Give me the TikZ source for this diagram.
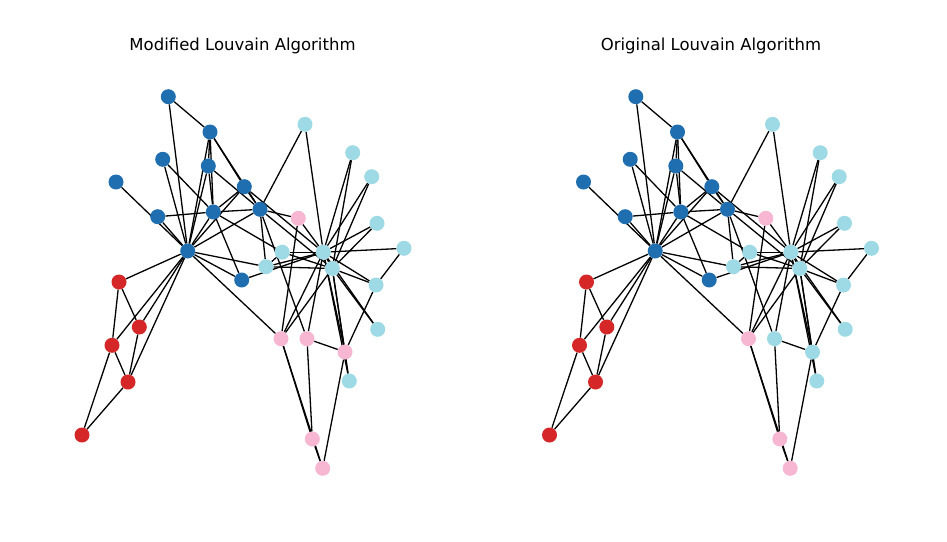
\documentclass[tikz,border=0pt]{standalone}
\usepackage{fontspec}
\setmainfont{DejaVu Sans}
\usetikzlibrary{backgrounds}
\definecolor{kcBlue}{HTML}{1F6EB0}
\definecolor{kcRed}{HTML}{D62728}
\definecolor{kcPink}{HTML}{F7B6D2}
\definecolor{kcCyan}{HTML}{9EDAE5}
\tikzset{
  member/.style={circle, inner sep=0pt, minimum size=15pt},
  tie/.style={line width=1.3pt, black},
  paneltitle/.style={font=\fontsize{16.5}{20}\selectfont, anchor=base}
}
\begin{document}
\begin{tikzpicture}[x=1pt, y=-1pt]
  \useasboundingbox (0,0) rectangle (947,541);
  \foreach \p/\dx/\cm in {L/0/kcPink, R/467.5/kcCyan} {
    \foreach \i/\x/\y/\c in {0/187.7/251/kcBlue, 1/213.3/212/kcBlue, 2/260/209.3/kcBlue,
        3/210/132/kcBlue, 4/119/282/kcRed, 5/128/382/kcRed, 6/112/345.3/kcRed,
        7/208.3/166/kcBlue, 8/266/266.7/kcCyan, 9/305/124.3/kcCyan, 10/139.3/327/kcRed,
        11/116/182/kcBlue, 12/168.3/96.7/kcBlue, 13/244.3/186.7/kcBlue,
        14/352.7/152.7/kcCyan, 15/371.7/176.7/kcCyan, 16/82/435/kcRed,
        17/157.7/216.7/kcBlue, 18/377/223.3/kcCyan, 19/241.7/280/kcBlue,
        20/377.7/329.3/kcCyan, 21/162.7/159.3/kcBlue, 22/349.3/381/kcCyan,
        23/345/352/\cm, 24/312.3/439/kcPink, 25/322.7/468.3/kcPink,
        26/404/248.3/kcCyan, 27/307/338.7/\cm, 28/298.3/218.3/kcPink,
        29/376/285/kcCyan, 30/282.2/252.2/kcCyan, 31/281/338.7/kcPink,
        32/332.3/268.5/kcCyan, 33/323.3/252.2/kcCyan}
      \node[member, fill=\c] (\p\i) at (\x+\dx,\y) {};
    \begin{scope}[on background layer]
      \foreach \a/\b in {0/1, 0/2, 0/3, 0/4, 0/5, 0/6, 0/7, 0/8, 0/10, 0/11, 0/12, 0/13,
          0/17, 0/19, 0/21, 0/31, 1/2, 1/3, 1/7, 1/13, 1/17, 1/19, 1/21, 1/30,
          2/3, 2/7, 2/8, 2/9, 2/13, 2/27, 2/28, 2/32, 3/7, 3/12, 3/13,
          4/6, 4/10, 5/6, 5/10, 5/16, 6/16, 8/30, 8/32, 8/33, 9/33, 13/33,
          14/32, 14/33, 15/32, 15/33, 18/32, 18/33, 19/33, 20/32, 20/33, 22/32, 22/33,
          23/25, 23/27, 23/29, 23/32, 23/33, 24/25, 24/27, 24/31, 25/31,
          26/29, 26/33, 27/33, 28/31, 28/33, 29/32, 29/33, 30/32, 30/33,
          31/32, 31/33, 32/33}
        \draw[tie] (\p\a) -- (\p\b);
    \end{scope}
  }
  \node[paneltitle] (lefttitle) at (242.5,50.5) {Modified Louvain Algorithm};
  \node[paneltitle] (righttitle) at (711,50.5) {Original Louvain Algorithm};
\end{tikzpicture}
\end{document}
